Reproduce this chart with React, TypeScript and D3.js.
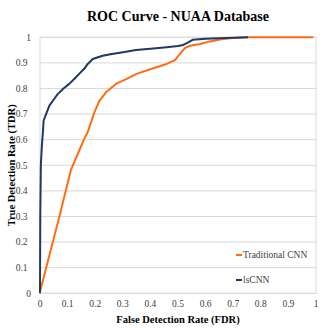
import React from 'react'
import * as d3 from 'd3'

// Traditional CNN (orange)
const tradFdr = [0, 0.07, 0.112, 0.14, 0.161, 0.173, 0.197, 0.215, 0.239, 0.275, 0.312, 0.35, 0.41, 0.459, 0.489, 0.507, 0.525, 0.543, 0.58, 0.616, 0.652, 0.688, 0.754, 0.85, 0.99]
const tradTdr = [0.006, 0.299, 0.482, 0.552, 0.605, 0.63, 0.707, 0.752, 0.785, 0.818, 0.837, 0.857, 0.879, 0.896, 0.911, 0.935, 0.958, 0.967, 0.974, 0.984, 0.991, 0.996, 1.0, 1.0, 1.0]

// lsCNN (navy)
const lsFdr = [0, 0.001, 0.003, 0.007, 0.01, 0.013, 0.022, 0.034, 0.05, 0.064, 0.085, 0.106, 0.125, 0.142, 0.16, 0.173, 0.191, 0.21, 0.227, 0.26, 0.29, 0.348, 0.4, 0.45, 0.5, 0.519, 0.537, 0.553, 0.6, 0.65, 0.7, 0.754]
const lsTdr = [0, 0.3, 0.5, 0.58, 0.622, 0.674, 0.70, 0.733, 0.757, 0.778, 0.80, 0.818, 0.838, 0.857, 0.877, 0.896, 0.915, 0.922, 0.928, 0.935, 0.94, 0.95, 0.955, 0.96, 0.966, 0.97, 0.98, 0.99, 0.994, 0.996, 0.998, 1.0]

const seriesNames = ['Traditional CNN', 'lsCNN']
const seriesColors = ['#FF6D10', '#1F3864']
const ticks = [0, 0.1, 0.2, 0.3, 0.4, 0.5, 0.6, 0.7, 0.8, 0.9, 1]

const font = '"Liberation Serif", "Times New Roman", serif'

export default function App() {
  const left = 40, right = 316, top = 37.3, bottom = 293.3
  const x = d3.scaleLinear().domain([0, 1]).range([left, right])
  const y = d3.scaleLinear().domain([0, 1]).range([bottom, top])

  const line = d3.line<[number, number]>()
    .x(d => x(d[0]))
    .y(d => y(d[1]))

  const trad = tradFdr.map((f, i) => [f, tradTdr[i]] as [number, number])
  const ls = lsFdr.map((f, i) => [f, lsTdr[i]] as [number, number])

  const fmt = (t: number) => (t === 0 || t === 1 ? String(t) : t.toFixed(1))

  return (
    <svg width={332} height={332} style={{ position: 'absolute', left: 0, top: 0, background: '#fff' }}>
      <text x={178} y={21} textAnchor="middle" fontFamily={font} fontWeight="bold" fontSize={14}>
        ROC Curve - NUAA Database
      </text>

      {/* gridlines */}
      {ticks.map(t => (
        <line key={'g' + t} x1={left} x2={right} y1={y(t)} y2={y(t)} stroke="#d9d9d9" strokeWidth={1} />
      ))}
      <rect x={left} y={top} width={right - left} height={bottom - top} fill="none" stroke="#d9d9d9" strokeWidth={1} />

      {/* y tick labels */}
      {ticks.map(t => (
        <text key={'y' + t} x={t === 0 || t === 1 ? 31 : 27.5} y={y(t)} dy="0.35em" textAnchor="end"
          fontFamily={font} fontSize={9.5} fill="#404040">{fmt(t)}</text>
      ))}
      {/* x tick labels */}
      {ticks.map(t => (
        <text key={'x' + t} x={x(t)} y={306.5} textAnchor="middle"
          fontFamily={font} fontSize={9.5} fill="#404040">{fmt(t)}</text>
      ))}

      <text x={178} y={323} textAnchor="middle" fontFamily={font} fontWeight="bold" fontSize={10.5}>
        False Detection Rate (FDR)
      </text>
      <text transform={`translate(15,${(top + bottom) / 2}) rotate(-90)`} textAnchor="middle"
        fontFamily={font} fontWeight="bold" fontSize={10.5}>
        True Detection Rate (TDR)
      </text>

      <path d={line(trad) || ''} fill="none" stroke={seriesColors[0]} strokeWidth={2} strokeLinejoin="round" />
      <path d={line(ls) || ''} fill="none" stroke={seriesColors[1]} strokeWidth={2} strokeLinejoin="round" />

      {/* legend */}
      {seriesNames.map((name, i) => (
        <g key={name} transform={`translate(236,${255 + i * 25})`}>
          <line x1={0} x2={6} y1={0} y2={0} stroke={seriesColors[i]} strokeWidth={2} />
          <text x={7} y={0} dy="0.35em" fontFamily={font} fontSize={9.5} fill="#404040">{name}</text>
        </g>
      ))}
    </svg>
  )
}
